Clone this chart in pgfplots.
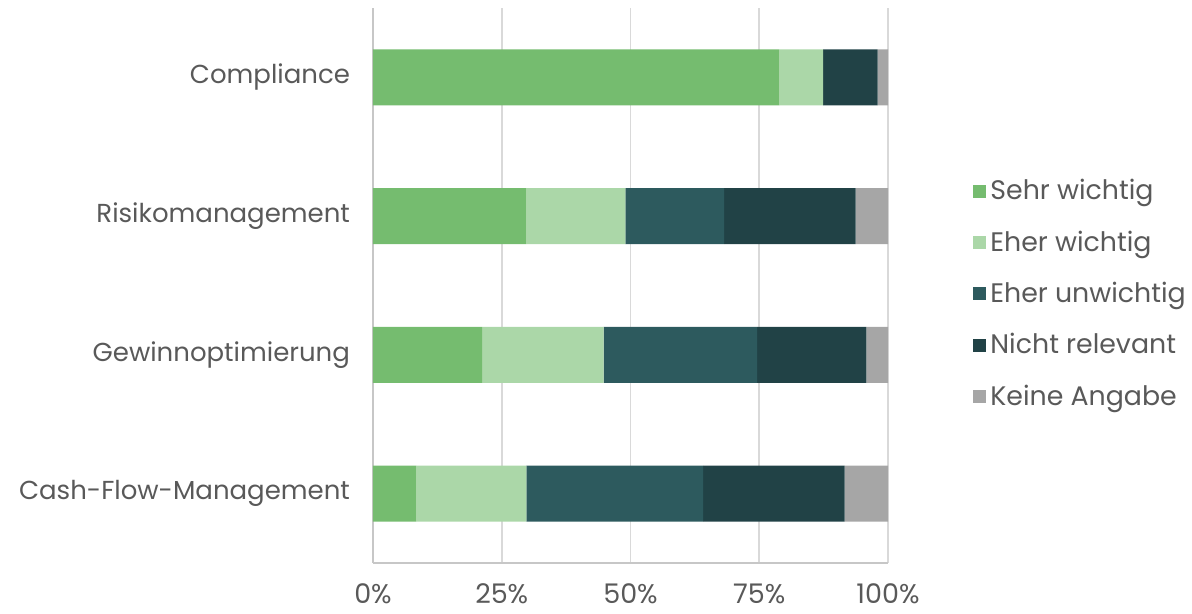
\documentclass[border=0pt]{standalone}
\usepackage{pgfplots}
\pgfplotsset{compat=1.18}
\usepackage{fontspec}
\setmainfont{Poppins}
\definecolor{c1}{HTML}{75BC6F}
\definecolor{c2}{HTML}{ABD7A8}
\definecolor{c3}{HTML}{2D5A5E}
\definecolor{c4}{HTML}{214246}
\definecolor{c5}{HTML}{A6A6A6}
\definecolor{txt}{HTML}{595959}
\definecolor{grd}{HTML}{D9D9D9}
\begin{document}
\begin{tikzpicture}
\path[use as bounding box] (-186.5pt,-25.5pt) rectangle (409.5pt,281.5pt);
\begin{axis}[
  at={(0pt,0pt)}, anchor=south west,
  scale only axis,
  width=257.5pt, height=277.5pt,
  xbar stacked,
  bar width=28pt,
  xmin=0, xmax=100,
  ymin=-0.5, ymax=3.5,
  xtick={0,25,50,75,100},
  xticklabels={0\%,25\%,50\%,75\%,100\%},
  ytick={0,1,2,3},
  yticklabels={Cash-Flow-Management,Gewinnoptimierung,Risikomanagement,Compliance},
  major tick length=0pt,
  xmajorgrids,
  grid style={grd, line width=0.8pt},
  axis x line*=bottom, axis y line*=left,
  axis line style={draw=grd!80!gray, line width=0.9pt, -},
  tick label style={text=txt},
  xticklabel style={yshift=-7pt, font=\fontsize{13.5}{15}\selectfont},
  yticklabel style={xshift=-8pt, font=\fontsize{13}{15}\selectfont},
  legend style={draw=none, fill=none, at={(297pt,196pt)}, anchor=north west,
    font=\fontsize{13.4}{15}\selectfont, text=txt, row sep=10pt,
    /tikz/every odd column/.style={}},
  legend cell align=left,
  legend image code/.code={\fill[#1] (0pt,-3.25pt) rectangle (6.5pt,3.25pt);},
]
\addplot[fill=c1, draw=none] coordinates {(8.4,0) (21.2,1) (29.8,2) (78.9,3)};
\addplot[fill=c2, draw=none] coordinates {(21.4,0) (23.6,1) (19.2,2) (8.5,3)};
\addplot[fill=c3, draw=none] coordinates {(34.3,0) (29.8,1) (19.2,2) (0,3)};
\addplot[fill=c4, draw=none] coordinates {(27.5,0) (21.2,1) (25.5,2) (10.6,3)};
\addplot[fill=c5, draw=none] coordinates {(8.4,0) (4.2,1) (6.3,2) (2.0,3)};
\legend{Sehr wichtig,Eher wichtig,Eher unwichtig,Nicht relevant,Keine Angabe}
\end{axis}
\end{tikzpicture}
\end{document}
